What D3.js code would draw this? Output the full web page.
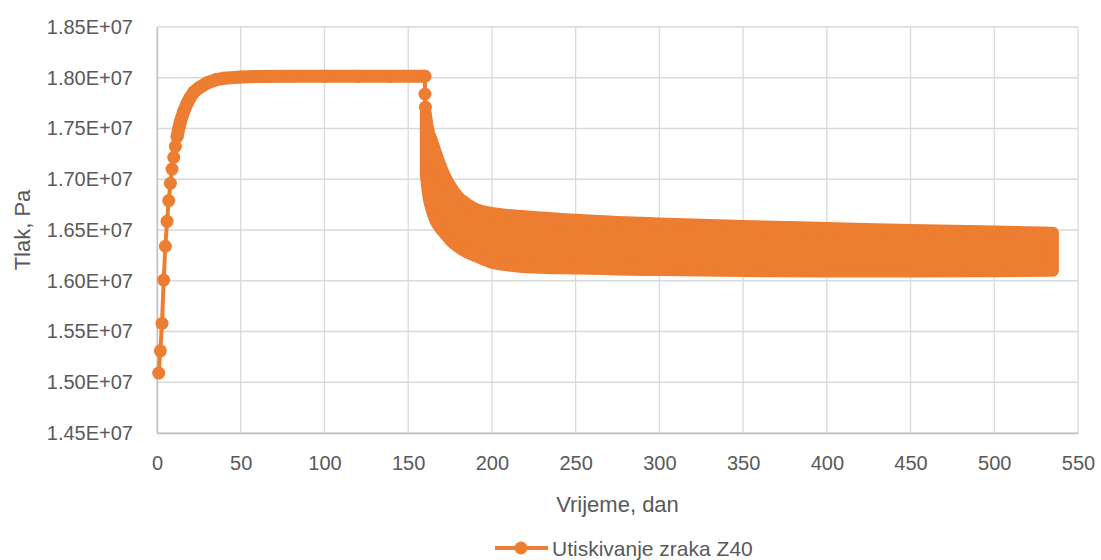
<!DOCTYPE html>
<html>
<head>
<meta charset="utf-8">
<script src="https://cdn.jsdelivr.net/npm/d3@7"></script>
<style>
  body { margin: 0; background: #fff; }
  text { font-family: "Liberation Sans", Arial, sans-serif; fill: #595959; }
</style>
</head>
<body>
<div id="chart"></div>
<script>
var svgWidth = 1101;
var svgHeight = 560;

var margin = { top: 27, right: 23, bottom: 127, left: 157 };
var width = svgWidth - margin.left - margin.right;
var height = svgHeight - margin.top - margin.bottom;

// rise, plateau and first drop points (day, pressure in 1E7 Pa)
var mainDays = [1, 2, 3, 4, 5, 6, 7, 8, 9, 10, 11, 12, 13, 14, 16, 18, 20, 22, 25, 30, 35, 40, 50, 60, 80, 100, 120, 140, 160, 160, 160.3];
var mainVals = [1.509, 1.531, 1.558, 1.6007, 1.634, 1.6585, 1.679, 1.696, 1.710, 1.7216, 1.7324, 1.742, 1.750, 1.757, 1.767, 1.775, 1.781, 1.786, 1.790, 1.795, 1.798, 1.7995, 1.8008, 1.8012, 1.8015, 1.8015, 1.8015, 1.8015, 1.8015, 1.784, 1.771];

// oscillating part after day 160: upper and lower envelope of the band
var bandDays = [160.5, 162, 164, 166, 169, 172, 175, 180, 185, 190, 200, 210, 225, 250, 275, 300, 350, 400, 450, 500, 535];
var upperVals = [1.765, 1.7485, 1.739, 1.729, 1.715, 1.703, 1.694, 1.6825, 1.676, 1.671, 1.6668, 1.6648, 1.6628, 1.660, 1.658, 1.6565, 1.654, 1.652, 1.650, 1.6485, 1.6474];
var lowerVals = [1.705, 1.684, 1.670, 1.660, 1.652, 1.646, 1.640, 1.633, 1.628, 1.6245, 1.6178, 1.615, 1.613, 1.612, 1.6112, 1.6105, 1.6095, 1.609, 1.609, 1.6094, 1.6098];

var xTicks = [0, 50, 100, 150, 200, 250, 300, 350, 400, 450, 500, 550];
var yTicks = [1.45, 1.50, 1.55, 1.60, 1.65, 1.70, 1.75, 1.80, 1.85];
var yTickLabels = ["1.45E+07", "1.50E+07", "1.55E+07", "1.60E+07", "1.65E+07", "1.70E+07", "1.75E+07", "1.80E+07", "1.85E+07"];

var seriesName = "Utiskivanje zraka Z40";
var orange = "#ED7D31";

var svg = d3.select("#chart")
  .append("svg")
  .attr("width", svgWidth)
  .attr("height", svgHeight);

var chartGroup = svg.append("g")
  .attr("transform", `translate(${margin.left}, ${margin.top})`);

var xScale = d3.scaleLinear().domain([0, 550]).range([0, width]);
var yScale = d3.scaleLinear().domain([1.45, 1.85]).range([height, 0]);

// gridlines
chartGroup.append("g")
  .selectAll("line")
  .data(yTicks)
  .enter()
  .append("line")
  .attr("x1", 0)
  .attr("x2", width)
  .attr("y1", d => yScale(d))
  .attr("y2", d => yScale(d))
  .attr("stroke", "#d9d9d9")
  .attr("stroke-width", 1.3);

chartGroup.append("g")
  .selectAll("line")
  .data(xTicks)
  .enter()
  .append("line")
  .attr("x1", d => xScale(d))
  .attr("x2", d => xScale(d))
  .attr("y1", 0)
  .attr("y2", height)
  .attr("stroke", "#d9d9d9")
  .attr("stroke-width", 1.3);

// axes (labels only, Excel-like)
var bottomAxis = d3.axisBottom(xScale).tickValues(xTicks).tickSize(0).tickPadding(23);
var leftAxis = d3.axisLeft(yScale).tickValues(yTicks).tickSize(0).tickPadding(24)
  .tickFormat((d, i) => yTickLabels[i]);

var xAxis = chartGroup.append("g")
  .attr("transform", `translate(0, ${height})`)
  .call(bottomAxis);
xAxis.select(".domain").attr("stroke", "#bfbfbf").attr("stroke-width", 1.3);
xAxis.selectAll("text").style("font-size", "20px").attr("fill", "#595959");

var yAxis = chartGroup.append("g").call(leftAxis);
yAxis.select(".domain").attr("stroke", "#bfbfbf").attr("stroke-width", 1.3);
yAxis.selectAll("text").style("font-size", "20px").attr("fill", "#595959");
chartGroup.selectAll(".tick text").attr("font-family", "Liberation Sans, Arial, sans-serif");

// band (dense oscillation)
var band = d3.area()
  .x((d, i) => xScale(bandDays[i]))
  .y0((d, i) => yScale(lowerVals[i]))
  .y1((d, i) => yScale(upperVals[i]))
  .curve(d3.curveMonotoneX);

chartGroup.append("path")
  .attr("d", band(bandDays))
  .attr("fill", orange)
  .attr("stroke", orange)
  .attr("stroke-width", 12)
  .attr("stroke-linejoin", "round");

// main series
var mainPts = mainDays.map((d, i) => [d, mainVals[i]]);
var line = d3.line()
  .x(d => xScale(d[0]))
  .y(d => yScale(d[1]));

chartGroup.append("path")
  .attr("d", line(mainPts))
  .attr("fill", "none")
  .attr("stroke", orange)
  .attr("stroke-width", 4);

// dense markers overlap into a thick stroke from day 12 on
chartGroup.append("path")
  .attr("d", line(mainPts.filter(d => d[0] >= 12 && d[1] > 1.79 || (d[0] >= 12 && d[0] < 160))))
  .attr("fill", "none")
  .attr("stroke", orange)
  .attr("stroke-width", 13)
  .attr("stroke-linecap", "round")
  .attr("stroke-linejoin", "round");

chartGroup.append("g")
  .selectAll("circle")
  .data(mainPts)
  .enter()
  .append("circle")
  .attr("cx", d => xScale(d[0]))
  .attr("cy", d => yScale(d[1]))
  .attr("r", 6.5)
  .attr("fill", orange);

// axis titles
svg.append("text")
  .attr("transform", "rotate(-90)")
  .attr("x", -230)
  .attr("y", 30)
  .attr("text-anchor", "middle")
  .style("font-size", "22px")
  .text("Tlak, Pa");

svg.append("text")
  .attr("x", margin.left + width / 2)
  .attr("y", 512)
  .attr("text-anchor", "middle")
  .style("font-size", "22px")
  .text("Vrijeme, dan");

// legend
var legend = svg.append("g").attr("transform", "translate(495, 548)");
legend.append("line")
  .attr("x1", 0).attr("x2", 53)
  .attr("y1", 0).attr("y2", 0)
  .attr("stroke", orange)
  .attr("stroke-width", 4);
legend.append("circle")
  .attr("cx", 26).attr("cy", 0).attr("r", 6.5)
  .attr("fill", orange);
legend.append("text")
  .attr("x", 57)
  .attr("y", 7.5)
  .style("font-size", "21px")
  .text(seriesName);
</script>
</body>
</html>
